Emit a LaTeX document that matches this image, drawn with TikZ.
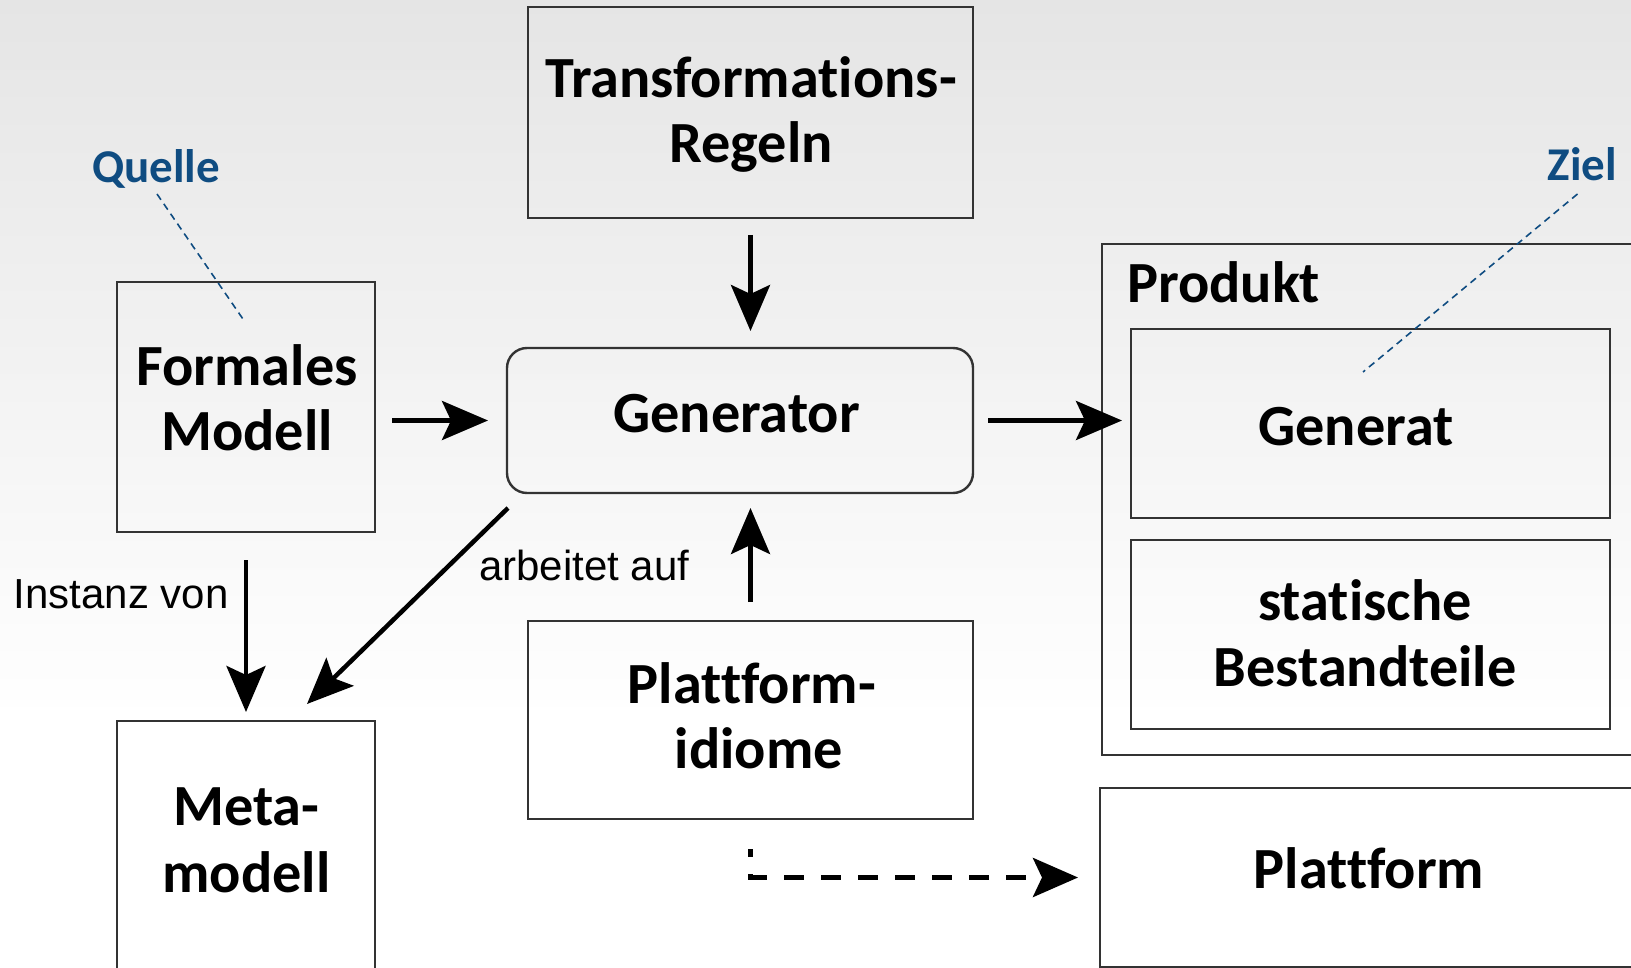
\documentclass[tikz,border=0pt]{standalone}
\usepackage{fontspec}
\setmainfont{Carlito}[Ligatures={NoCommon,NoContextual}]
\newfontfamily\arialfont{Liberation Sans}
\usetikzlibrary{arrows.meta}
\definecolor{leaderblue}{HTML}{0F4C81}
\definecolor{boxline}{HTML}{333333}
\definecolor{bgtop}{HTML}{E5E5E5}
\begin{document}
\begin{tikzpicture}[x=1pt,y=-1pt,
  box/.style={draw=boxline, line width=2.4pt, rectangle, inner sep=0pt, outer sep=0pt},
  txt/.style={anchor=base, inner sep=0pt, font=\bfseries\fontsize{58.3}{70}\selectfont},
  tag/.style={anchor=base, inner sep=0pt, text=leaderblue, font=\bfseries\fontsize{47}{56}\selectfont},
  note/.style={anchor=base west, inner sep=0pt, font=\arialfont\fontsize{42}{50}\selectfont},
  flow/.style={line width=4.5pt, -{Stealth[length=46pt,width=39pt,inset=9pt]}},
  dflow/.style={line width=5pt, dash pattern=on 20pt off 17pt, dash phase=12pt,
    -{Stealth[length=45pt,width=39pt,inset=9pt]}},
  leader/.style={draw=leaderblue, line width=1.6pt, dash pattern=on 7pt off 5pt}
]
\useasboundingbox (0,0) rectangle (1631,968);
\clip (0,0) rectangle (1631,968);

% background: light grey fading to white
\shade[top color=bgtop, bottom color=white] (0,0) rectangle (1631,720);
\fill[white] (0,719) rectangle (1631,968);

% boxes
\node[box, minimum width=445pt, minimum height=211pt] (tr) at (750.5,112.5) {};
\node[box, minimum width=258pt, minimum height=250pt] (fm) at (246,407) {};
\node[box, rounded corners=20pt, minimum width=466pt, minimum height=145pt] (gen) at (740,420.5) {};
\node[box, minimum width=445pt, minimum height=198pt] (pi) at (750.5,720) {};
\node[box, minimum width=258pt, minimum height=300pt] (mm) at (246,871) {};
\node[box, minimum width=558pt, minimum height=511pt] (prod) at (1381,499.5) {};
\node[box, minimum width=479pt, minimum height=189pt] (gt) at (1370.5,423.5) {};
\node[box, minimum width=479pt, minimum height=189pt] (st) at (1370.5,634.5) {};
\node[box, minimum width=560pt, minimum height=179pt] (pf) at (1380,877.5) {};

% box texts
\node[txt] (tr1) at (751,98) {Transformations-};
\node[txt] (tr2) at (751,163) {Regeln};
\node[txt] (fm1) at (247,385) {Formales};
\node[txt] (fm2) at (247,450) {Modell};
\node[txt] (gen1) at (736.5,432) {Generator};
\node[txt] (pi1) at (752,703) {Plattform-};
\node[txt] (pi2) at (759,768) {idiome};
\node[txt] (mm1) at (246.5,825) {Meta-};
\node[txt] (mm2) at (246.5,892) {modell};
\node[txt, anchor=base west] (prod1) at (1127,303) {Produkt};
\node[txt] (gt1) at (1356,445) {Generat};
\node[txt] (st1) at (1365,620) {statische};
\node[txt] (st2) at (1365,686) {Bestandteile};
\node[txt] (pf1) at (1369,888) {Plattform};

% annotations
\node[tag] (ql) at (156,183) {Quelle};
\node[tag] (zl) at (1582.5,181) {Ziel};
\node[note] (inst) at (13.5,608) {Instanz von};
\node[note] (arb) at (479,580) {arbeitet auf};

\coordinate (qend) at (245,322);
\coordinate (zend) at (1363,372);
\draw[leader] ([shift={(1,11)}]ql.base) -- (qend);
\draw[leader] ([shift={(-5,13)}]zl.base) -- (zend);

% connectors
\draw[flow, shorten <=17pt, shorten >=19pt] (fm.east |- gen.west) -- (gen.west);
\draw[flow, shorten <=17pt, shorten >=17pt] (tr.south) -- (tr.south |- gen.north);
\draw[flow, shorten <=19pt, shorten >=15pt] (pi.north) -- (pi.north |- gen.south);
\draw[flow, shorten <=15pt, shorten >=9pt] (gen.east) -- (gen.east -| gt.west);
\draw[flow, shorten <=28pt, shorten >=9pt] (fm.south) -- (mm.north);
\draw[flow] ([shift={(1,15)}]gen.south west) -- ([shift={(-68,-17)}]mm.north east);
\draw[dflow] ([yshift=-30pt]pi.south) |- ([xshift=-22pt]pf.west);
\end{tikzpicture}
\end{document}
